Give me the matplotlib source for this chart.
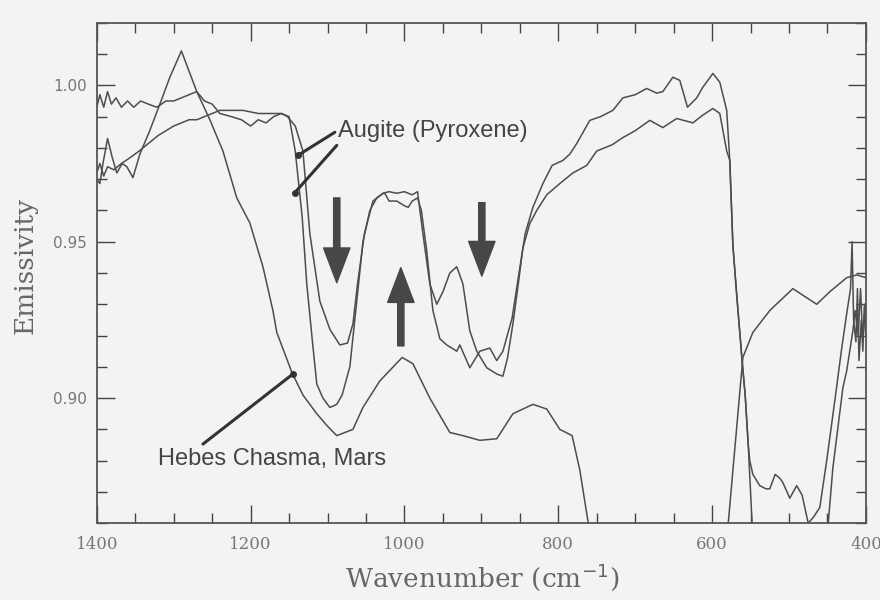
import numpy as np
import matplotlib
matplotlib.use("Agg")
import matplotlib.pyplot as plt
from matplotlib.ticker import MultipleLocator, FormatStrFormatter

nan = np.nan

# Hebes Chasma, Mars (goes below the axis between ~760 and ~580)
mars_wn = [1400, 1396, 1392, 1386, 1380, 1374, 1367, 1361, 1353, 1344, 1331, 1318, 1305, 1290,
           1270, 1253, 1236, 1218, 1201, 1184, 1171, 1166, 1146, 1132, 1114, 1100, 1088, 1067,
           1054, 1032, 1003, 989, 967, 941, 924, 902, 880, 859, 833, 815, 798, 782, 772, 761,
           670, 579, 560, 547, 525, 495, 464, 447, 425, 412, 400]
mars_em = [0.970, 0.9686, 0.975, 0.983, 0.977, 0.972, 0.975, 0.974, 0.9705, 0.978, 0.9856, 0.994, 1.0026, 1.011,
           0.998, 0.989, 0.979, 0.964, 0.956, 0.942, 0.928, 0.921, 0.908, 0.901, 0.895, 0.891, 0.888, 0.890,
           0.897, 0.9055, 0.913, 0.911, 0.900, 0.889, 0.888, 0.8865, 0.887, 0.895, 0.898, 0.8965, 0.890, 0.888, 0.877, 0.860,
           nan, 0.860, 0.913, 0.921, 0.928, 0.935, 0.930, 0.934, 0.9385, 0.9394, 0.9385]

# Augite (Pyroxene), first spectrum
aug1_wn = [1400, 1396, 1391, 1386, 1381, 1375, 1368, 1360, 1352, 1343, 1333, 1322, 1310, 1300, 1290,
           1280, 1270, 1260, 1250, 1240, 1225, 1212, 1200, 1190, 1180, 1170, 1160, 1152, 1142, 1132,
           1123, 1110, 1097, 1084, 1074, 1067, 1061, 1052, 1041, 1028, 1020, 1010, 1000, 990, 983,
           976, 967, 958, 950, 941, 932, 924, 915, 906, 893, 880, 872, 866, 859, 852, 846, 837, 828,
           815, 798, 781, 763, 750, 730, 716, 700, 681, 664, 646, 625, 612, 599, 590, 581, 577, 573,
           568, 561, 557, 553, 551, 547, 538, 530, 525, 518, 512, 508, 499, 490, 483, 475,
           468, 460, 451, 440, 432, 425, 420, 418, 416, 413, 411, 409, 406, 404, 402, 400]
aug1_em = [0.993, 0.997, 0.993, 0.998, 0.994, 0.996, 0.993, 0.995, 0.993, 0.995, 0.994, 0.993, 0.995, 0.995, 0.996,
           0.997, 0.998, 0.995, 0.994, 0.991, 0.990, 0.989, 0.987, 0.989, 0.988, 0.990, 0.991, 0.990, 0.987, 0.979,
           0.9526, 0.931, 0.922, 0.917, 0.9176, 0.9237, 0.9365, 0.9526, 0.963, 0.9655, 0.966, 0.9655, 0.966, 0.965, 0.966,
           0.9526, 0.9365, 0.930, 0.934, 0.940, 0.942, 0.9365, 0.9215, 0.915, 0.9097, 0.9077, 0.907, 0.9128, 0.9237, 0.9365, 0.948, 0.9558, 0.960,
           0.965, 0.9686, 0.972, 0.9744, 0.979, 0.981, 0.9833, 0.9855, 0.9888, 0.9865, 0.9894, 0.988, 0.9905, 0.9926, 0.991, 0.979, 0.976, 0.949,
           0.933, 0.912, 0.901, 0.885, 0.880, 0.8756, 0.872, 0.871, 0.871, 0.8756, 0.8744, 0.873, 0.868, 0.872, 0.869, 0.860,
           0.862, 0.865, 0.880, 0.900, 0.915, 0.927, 0.935, 0.950, 0.925, 0.918, 0.935, 0.912, 0.925, 0.915, 0.930, 0.920]

# Augite (Pyroxene), second spectrum (goes below the axis between ~548 and ~449)
aug2_wn = [1400, 1396, 1391, 1386, 1378, 1368, 1356, 1345, 1335, 1320, 1300, 1290, 1280, 1270, 1260,
           1250, 1240, 1225, 1210, 1190, 1175, 1160, 1150, 1142, 1133, 1127, 1120, 1114, 1106, 1097,
           1088, 1081, 1071, 1062, 1054, 1045, 1036, 1026, 1020, 1010, 1000, 995, 990, 983, 978,
           971, 963, 954, 945, 932, 928, 915, 902, 889, 880, 872, 860, 852, 843, 833, 820, 808,
           794, 785, 776, 759, 745, 729, 716, 700, 685, 672, 664, 651, 642, 632, 620, 612, 599, 590,
           581, 577, 573, 568, 561, 557, 553, 548,
           500, 449, 443, 430, 425, 417, 414, 410, 407, 404, 401, 400]
aug2_em = [0.972, 0.975, 0.971, 0.974, 0.973, 0.975, 0.977, 0.979, 0.981, 0.984, 0.987, 0.988, 0.989, 0.989, 0.990,
           0.991, 0.992, 0.992, 0.992, 0.991, 0.991, 0.991, 0.990, 0.979, 0.958, 0.9365, 0.919, 0.9045, 0.900, 0.897,
           0.898, 0.901, 0.910, 0.931, 0.950, 0.960, 0.964, 0.9657, 0.963, 0.963, 0.9615, 0.961, 0.963, 0.964, 0.960,
           0.947, 0.928, 0.919, 0.917, 0.915, 0.917, 0.9097, 0.915, 0.916, 0.912, 0.915, 0.9256, 0.9385, 0.9526, 0.961, 0.9686, 0.9744,
           0.976, 0.978, 0.9814, 0.9888, 0.990, 0.992, 0.996, 0.997, 0.999, 0.9975, 0.998, 1.0026, 1.0016, 0.993, 0.996, 0.9994, 1.0038, 1.001,
           0.992, 0.976, 0.949, 0.933, 0.912, 0.901, 0.885, 0.860,
           nan, 0.860, 0.8776, 0.9032, 0.9087, 0.9215, 0.928, 0.920, 0.935, 0.918, 0.930, 0.925]

xticks = [1400, 1200, 1000, 800, 600, 400]
yticks = [0.90, 0.95, 1.00]

bg = "#f3f3f3"
fig = plt.figure(figsize=(8.8, 6.0), dpi=100, facecolor=bg)
ax = fig.add_axes([0.110, 0.128, 0.874, 0.834], facecolor=bg)

lc = "#4d4d4d"
ax.plot(mars_wn, mars_em, color=lc, lw=1.1)
ax.plot(aug1_wn, aug1_em, color=lc, lw=1.1)
ax.plot(aug2_wn, aug2_em, color=lc, lw=1.1)

ax.set_xlim(1400, 400)
ax.set_ylim(0.86, 1.02)
ax.set_xticks(xticks)
ax.set_yticks(yticks)
ax.xaxis.set_minor_locator(MultipleLocator(50))
ax.yaxis.set_minor_locator(MultipleLocator(0.01))
ax.yaxis.set_major_formatter(FormatStrFormatter("%.2f"))
ax.tick_params(which="both", direction="in", top=True, right=True, color="#444", width=1.0)
ax.tick_params(which="major", length=13)
ax.tick_params(which="minor", length=7)
ax.tick_params(axis="x", pad=9, labelsize=12, labelcolor="#777")
ax.tick_params(axis="y", pad=7, labelsize=11, labelcolor="#777")
for lab in ax.get_xticklabels():
    lab.set_family("DejaVu Serif")
for s in ax.spines.values():
    s.set_color("#555")
    s.set_linewidth(1.3)

fig.text(25 / 880, 1 - 266 / 600, "Emissivity", rotation=90, ha="center", va="center",
         family="DejaVu Serif", fontsize=19, color="#666")
fig.text(482 / 880, 1 - 577 / 600, "Wavenumber (cm$^{-1}$)", ha="center", va="center",
         family="DejaVu Serif", fontsize=19, color="#666")

# annotations
tc = "#444"
ax.text(1086, 0.9853, "Augite (Pyroxene)", ha="left", va="center", family="Liberation Sans",
        fontsize=17, color=tc)
ax.plot([1090.5, 1138.6], [0.985, 0.9776], color="#333", lw=2.2, solid_capstyle="round")
ax.plot([1088, 1142.5], [0.9808, 0.9657], color="#333", lw=2.2, solid_capstyle="round")
ax.plot([1138.6, 1142.5], [0.9776, 0.9657], "o", color="#333", ms=4, ls="none")

ax.text(1321, 0.8804, "Hebes Chasma, Mars", ha="left", va="center", family="Liberation Sans",
        fontsize=17, color=tc)
ax.plot([1262, 1145], [0.8853, 0.9077], color="#333", lw=2.2, solid_capstyle="round")
ax.plot([1145], [0.9077], "o", color="#333", ms=4)

# band arrows
arrows = [((1088, 0.964), (1088, 0.9369)),
          ((1004.7, 0.9167), (1004.7, 0.9417)),
          ((899.4, 0.9625), (899.4, 0.939))]
for tail, tip in arrows:
    ax.annotate("", xy=tip, xytext=tail,
                arrowprops=dict(arrowstyle="simple,head_length=2.5,head_width=1.9,tail_width=0.45",
                                mutation_scale=10, color="#474747", shrinkA=0, shrinkB=0))

fig.savefig("out.png", dpi=100, facecolor=bg)
